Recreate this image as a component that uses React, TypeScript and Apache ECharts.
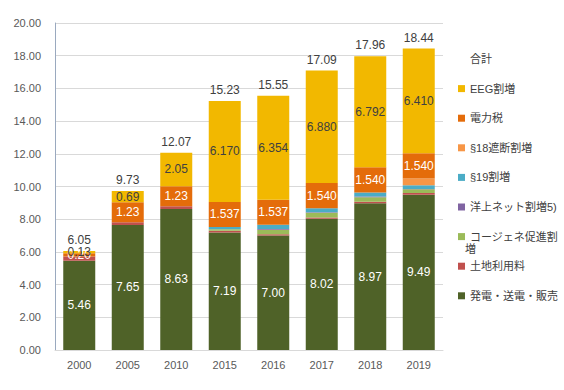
import React, { useEffect, useRef } from "react";
import * as echarts from "echarts";

const categories = ["2000", "2005", "2010", "2015", "2016", "2017", "2018", "2019"];
const generation = [5.46, 7.65, 8.63, 7.19, 7.0, 8.02, 8.97, 9.49];
const landUse = [0.26, 0.16, 0.16, 0.11, 0.08, 0.09, 0.1, 0.11];
const chp = [0, 0, 0, 0.09, 0.28, 0.29, 0.28, 0.23];
const offshore = [0, 0, 0, 0, 0.04, 0.03, 0.04, 0.02];
const sec19 = [0, 0, 0, 0.13, 0.26, 0.24, 0.24, 0.23];
const sec18 = [0, 0, 0, 0, 0, 0, 0, 0.41];
const elecTax = [0.2, 1.23, 1.23, 1.537, 1.537, 1.54, 1.54, 1.54];
const eeg = [0.13, 0.69, 2.05, 6.17, 6.354, 6.88, 6.792, 6.41];
const totals = [6.05, 9.73, 12.07, 15.23, 15.55, 17.09, 17.96, 18.44];
const labelDecimals = [2, 2, 2, 3, 3, 3, 3, 3];
const yTicks = { min: 0, max: 20, interval: 2 };

const FONT = "'Liberation Sans', 'Noto Sans CJK JP', sans-serif";
const CHP_NAME = "コージェネ促進割増";

export default function App() {
  const ref = useRef<HTMLDivElement>(null);
  useEffect(() => {
    document.body.style.margin = "0";
    if (!ref.current) return;
    const chart = echarts.init(ref.current, undefined, { renderer: "svg" });
    const mk = (name: string, data: number[], color: string, label?: any) => ({
      name,
      type: "bar",
      stack: "s",
      data,
      barWidth: 32,
      barGap: "-100%",
      itemStyle: { color },
      label: label || { show: false },
    });
    const inLabel = (color: string, fixed?: number) => ({
      show: true,
      position: "inside",
      color,
      fontSize: 12,
      fontFamily: FONT,
      formatter: (p: any) =>
        Number(p.value).toFixed(fixed != null ? fixed : labelDecimals[p.dataIndex]),
    });
    chart.setOption({
      animation: false,
      textStyle: { fontFamily: FONT },
      grid: { left: 55, right: 121, top: 23, bottom: 40 },
      xAxis: {
        type: "category",
        data: categories,
        axisLine: { show: true, lineStyle: { color: "#D9D9D9" } },
        axisTick: { show: false },
        axisLabel: { color: "#595959", fontSize: 11, margin: 9, fontFamily: FONT },
      },
      yAxis: {
        type: "value",
        min: yTicks.min,
        max: yTicks.max,
        interval: yTicks.interval,
        axisLine: { show: true, lineStyle: { color: "#9AA9BF" } },
        axisTick: { show: false },
        splitLine: { lineStyle: { color: "#D9D9D9" } },
        axisLabel: {
          color: "#595959",
          fontSize: 11,
          margin: 14,
          fontFamily: FONT,
          formatter: (v: number) => v.toFixed(2),
        },
      },
      legend: {
        orient: "vertical",
        left: 453,
        top: 46,
        itemWidth: 7,
        itemHeight: 7,
        itemGap: 13.6,
        icon: "rect",
        textStyle: { color: "#404040", fontSize: 11, lineHeight: 16, fontFamily: FONT },
        formatter: (n: string) => (n === CHP_NAME ? "コージェネ促進割" : n),
        data: [
          "合計",
          "EEG割増",
          "電力税",
          "§18遮断割増",
          "§19割増",
          "洋上ネット割増5)",
          CHP_NAME,
          "土地利用料",
          "発電・送電・販売",
        ],
      },
      graphic: [
        {
          type: "text",
          left: 465,
          top: 243,
          style: {
            text: "増",
            fontSize: 11,
            fontFamily: FONT,
            fill: "#404040",
          },
        },
      ],
      series: [
        mk("発電・送電・販売", generation, "#4F6228", inLabel("#FFFFFF", 2)),
        mk("土地利用料", landUse, "#C0504D"),
        mk(CHP_NAME, chp, "#9BBB59"),
        mk("洋上ネット割増5)", offshore, "#8064A2"),
        mk("§19割増", sec19, "#4BACC6"),
        mk("§18遮断割増", sec18, "#F79646"),
        mk("電力税", elecTax, "#E46C0A", inLabel("#FFFFFF")),
        mk("EEG割増", eeg, "#F2B800", inLabel("#404040")),
        {
          name: "合計",
          type: "bar",
          data: totals,
          barWidth: 32,
          barGap: "-100%",
          z: 1,
          itemStyle: { color: "rgba(0,0,0,0)" },
          label: {
            show: true,
            position: "top",
            distance: 5,
            color: "#404040",
            fontSize: 12,
            fontFamily: FONT,
            formatter: (p: any) => Number(p.value).toFixed(2),
          },
        },
      ],
    });
    return () => chart.dispose();
  }, []);
  return <div ref={ref} style={{ width: 564, height: 390 }} />;
}
